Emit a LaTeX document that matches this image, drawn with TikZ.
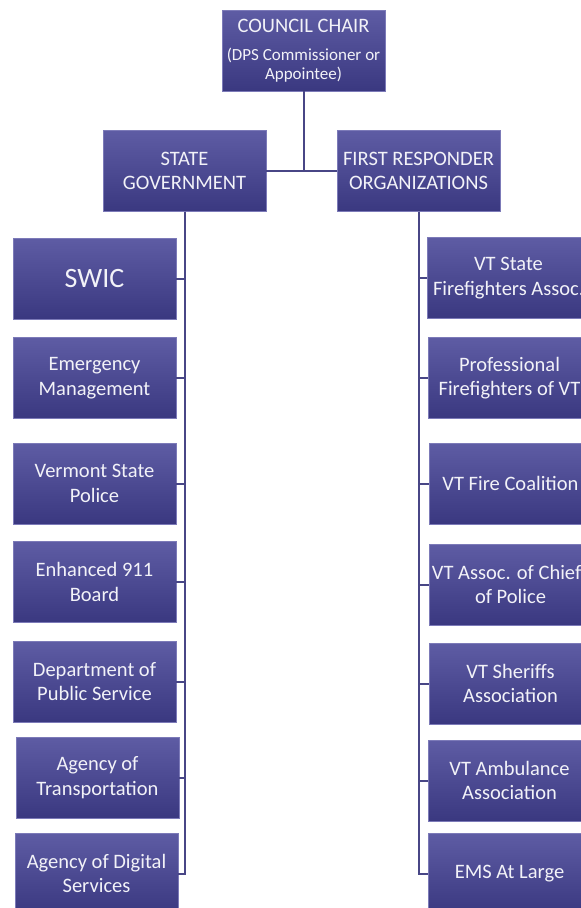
\documentclass[tikz,border=0pt]{standalone}
\usepackage{fontspec}
\setmainfont{Carlito}
\usetikzlibrary{positioning}

\definecolor{boxtop}{RGB}{94,92,164}
\definecolor{boxbot}{RGB}{58,56,128}
\definecolor{boxedge}{RGB}{124,122,184}
\definecolor{linkcol}{RGB}{72,70,134}
\definecolor{label}{RGB}{242,242,248}
\newcommand\subtext{\fontsize{17}{20}\selectfont}

\begin{document}
\begin{tikzpicture}[
    x=1pt, y=1pt,
    every node/.style={font=\fontsize{20.5}{24.5}\selectfont, text=label},
    unit/.style={minimum width=163pt, minimum height=81pt, inner sep=2pt,
        align=center, top color=boxtop, bottom color=boxbot,
        draw=boxedge, line width=0.6pt},
    link/.style={draw=linkcol, line width=2pt}
]

\useasboundingbox (0,0) rectangle (581,-908);
\clip (0,0) rectangle (581,-908);

\node[unit] (chair) at (303.5,-50.5) {COUNCIL CHAIR\\[4pt]\subtext (DPS Commissioner or\\[-6pt]\subtext Appointee)};

\node[unit] (gov) at (184.5,-171) {STATE\\GOVERNMENT};
\node[unit] (resp) at (418.5,-171) {FIRST RESPONDER\\ORGANIZATIONS};

\node[unit, font=\fontsize{28}{32}\selectfont] (gov1) at (94.5,-278.5) {SWIC};
\node[unit] (gov2) at (94.5,-378) {Emergency\\Management};
\node[unit] (gov3) at (94.5,-483.5) {Vermont State\\Police};
\node[unit] (gov4) at (94.5,-582) {Enhanced 911\\Board};
\node[unit] (gov5) at (94.5,-681.5) {Department of\\Public Service};
\node[unit] (gov6) at (97.5,-777.5) {Agency of\\Transportation};
\node[unit] (gov7) at (96.5,-873.5) {Agency of Digital\\Services};

\node[unit] (resp1) at (508.5,-278) {VT State\\Firefighters Assoc.};
\node[unit] (resp2) at (509.5,-378) {Professional\\Firefighters of VT};
\node[unit] (resp3) at (510.5,-483.5) {VT Fire Coalition};
\node[unit] (resp4) at (510.5,-584.5) {VT Assoc. of Chiefs\\of Police};
\node[unit] (resp5) at (510.5,-683.5) {VT Sheriffs\\Association};
\node[unit] (resp6) at (509.5,-780.5) {VT Ambulance\\Association};
\node[unit] (resp7) at (509.5,-873.5) {EMS At Large};

\draw[link] (chair.south) |- (gov.east);
\draw[link] (chair.south) |- (resp.west);

\foreach \i in {1,...,7} {
    \draw[link] (gov.south) |- (gov\i.east);
    \draw[link] (resp.south) |- (resp\i.west);
}

\end{tikzpicture}
\end{document}
